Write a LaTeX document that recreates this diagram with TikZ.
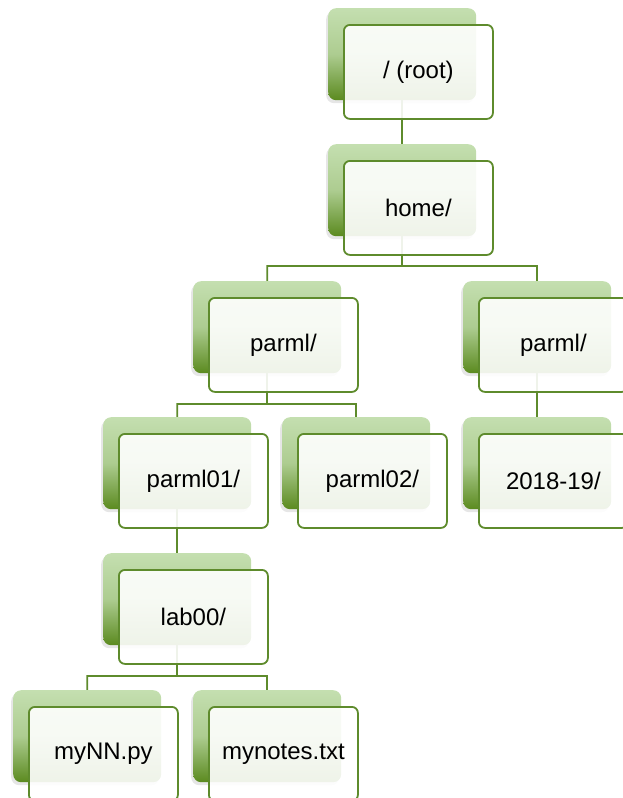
\documentclass[tikz,border=0pt]{standalone}
\usepackage{fontspec}
\setmainfont{Liberation Sans}
\usetikzlibrary{backgrounds,shadows}
\definecolor{bkTop}{HTML}{C4DFB0}
\definecolor{bkBot}{HTML}{5B8A1F}
\definecolor{edge}{HTML}{5E8B2C}

\begin{document}
\begin{tikzpicture}[x=1pt, y=-1pt,
  backbox/.style={rounded corners=8pt, minimum width=148pt, minimum height=92pt,
    anchor=north west, inner sep=0pt, top color=bkTop, bottom color=bkBot,
    middle color=bkTop!78!bkBot,
    drop shadow={shadow xshift=-2pt, shadow yshift=-3pt, opacity=0.2}},
  folder/.style={draw=edge, line width=1.8pt, rounded corners=6pt, fill=white,
    fill opacity=0.9, text opacity=1, minimum width=149pt, minimum height=94pt,
    anchor=north west, font=\fontsize{24}{28}\selectfont},
  link/.style={draw=edge, line width=1.8pt}
]
\useasboundingbox (0,0) rectangle (623,798);

% back tabs
\node[backbox] (rootbk) at (328,8) {};
\node[backbox] (homebk) at (328,144) {};
\node[backbox] (parmlbk) at (193,281) {};
\node[backbox] (parmlrbk) at (463,281) {};
\node[backbox] (parmlabbk) at (103,417) {};
\node[backbox] (parmlcrbk) at (282,417) {};
\node[backbox] (yearbk) at (463,417) {};
\node[backbox] (labbk) at (103,553) {};
\node[backbox] (mynnbk) at (13,690) {};
\node[backbox] (notesbk) at (193,690) {};

% front cards
\node[folder] (root) at ([shift={(15,16)}]rootbk.north west) {/ (root)};
\node[folder] (home) at ([shift={(15,16)}]homebk.north west) {home/};
\node[folder] (parml) at ([shift={(15,16)}]parmlbk.north west) {parml/};
\node[folder] (parmlr) at ([shift={(15,16)}]parmlrbk.north west) {parml/};
\node[folder] (parmlab) at ([shift={(15,16)}]parmlabbk.north west) {parml01/};
\node[folder] (parmlcr) at ([shift={(15,16)}]parmlcrbk.north west) {parml02/};
\node[folder] (year) at ([shift={(15,16)}]yearbk.north west) {2018-19/};
\node[folder] (lab) at ([shift={(15,16)}]labbk.north west) {lab00/};
\node[folder] (mynn) at ([shift={(15,16)}]mynnbk.north west) {myNN.py};
\node[folder] (notes) at ([shift={(15,16)}]notesbk.north west) {mynotes.txt};

\coordinate (homefork) at (402,266);
\coordinate (parmlfork) at (267,404);
\coordinate (labfork) at (177,676);

\begin{scope}[on background layer]
\draw[link] (rootbk.center) -- (homebk.center);
\draw[link] (homebk.center) -- (homefork) -| (parmlbk.center);
\draw[link] (homefork) -| (parmlrbk.center);
\draw[link] (parmlbk.center) -- (parmlfork) -| (parmlabbk.center);
\draw[link] (parmlfork) -| (parmlcrbk.center);
\draw[link] (parmlrbk.center) -- (yearbk.center);
\draw[link] (parmlabbk.center) -- (labbk.center);
\draw[link] (labbk.center) -- (labfork) -| (mynnbk.center);
\draw[link] (labfork) -| (notesbk.center);
\end{scope}
\end{tikzpicture}
\end{document}
